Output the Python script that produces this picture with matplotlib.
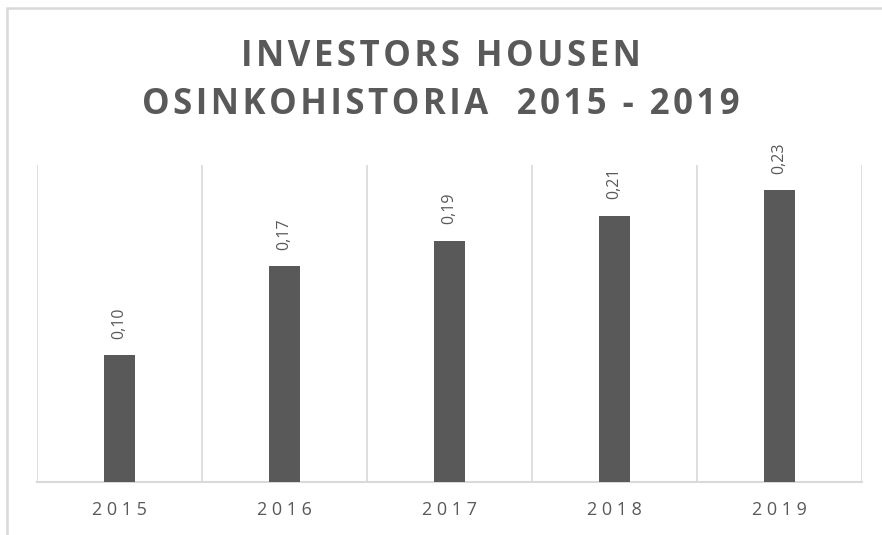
import matplotlib.pyplot as plt
from matplotlib.patches import Rectangle

years = ["2015", "2016", "2017", "2018", "2019"]
dividends = [0.10, 0.17, 0.19, 0.21, 0.23]
value_labels = ["0,10", "0,17", "0,19", "0,21", "0,23"]

plt.rcParams["font.family"] = ["Open Sans", "DejaVu Sans"]


def spaced(s, sep):
    # fake Excel-like character spacing
    return sep.join(s)


fig = plt.figure(figsize=(8.82, 5.35), dpi=100)
ax = fig.add_axes([37 / 882, 53 / 535, 825 / 882, 317 / 535])

grid_col = "#d9d9d9"
text_col = "#595959"

x = range(len(years))
ax.bar(x, dividends, width=0.19, color=text_col, zorder=3)

for xi, v, lab in zip(x, dividends, value_labels):
    ax.annotate(lab, (xi, v), xytext=(0, 12), textcoords="offset points",
                rotation=90, ha="center", va="bottom", fontsize=11.5, color=text_col)

# category separators
for b in range(len(years) + 1):
    ax.axvline(b - 0.5, color=grid_col, lw=1.2, zorder=1)

ax.set_xlim(-0.5, len(years) - 0.5)
ax.set_ylim(0, 0.25)
ax.set_xticks(list(x))
ax.set_xticklabels([spaced(y, " ") for y in years], fontsize=13, color=text_col)
ax.tick_params(axis="x", length=0, pad=14)
ax.set_yticks([])
for s in ["top", "left", "right"]:
    ax.spines[s].set_visible(False)
ax.spines["bottom"].set_color(grid_col)
ax.spines["bottom"].set_linewidth(1.5)

fig.text(0.5, 1 - 57 / 535, spaced("INVESTORS HOUSEN", "\u200a"), ha="center", va="center",
         fontsize=25, fontweight="bold", color=text_col)
fig.text(0.5, 1 - 105 / 535, spaced("OSINKOHISTORIA  2015 - 2019", "\u200a"), ha="center",
         va="center", fontsize=25, fontweight="bold", color=text_col)

# chart border (cut off at right and bottom in the original)
fig.patches.append(Rectangle((7 / 882, -0.1), 1.5, 1.1 - 8 / 535,
                             transform=fig.transFigure, fill=False,
                             edgecolor=grid_col, lw=1.8))

fig.savefig("out.png", dpi=100)
